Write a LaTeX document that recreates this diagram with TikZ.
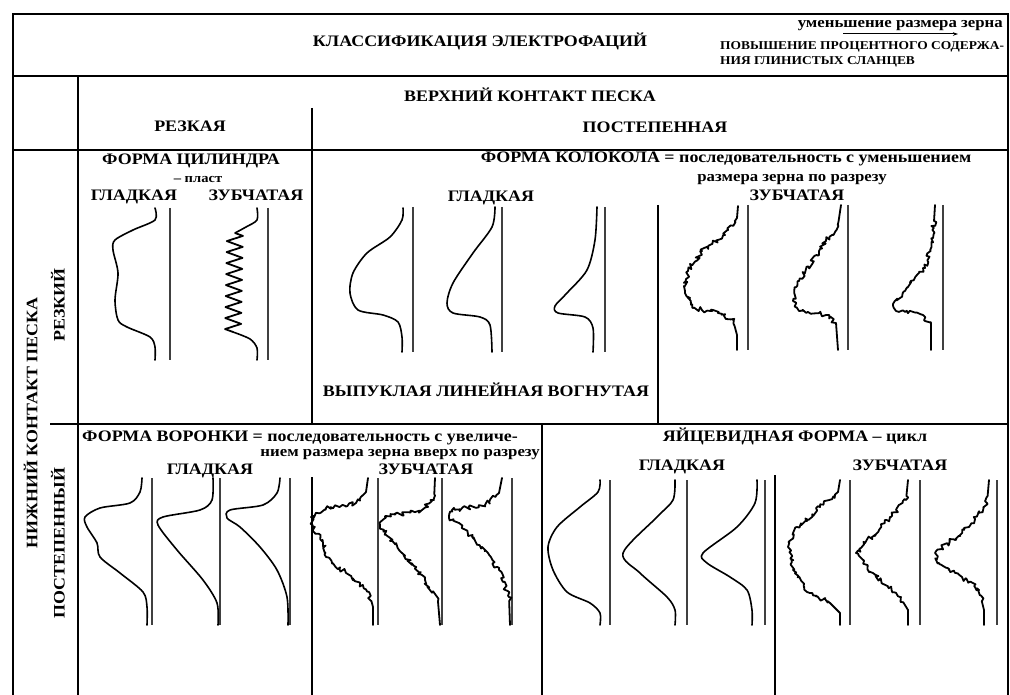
\documentclass[tikz,border=0pt]{standalone}
\usepackage{fontspec}
\setmainfont{Liberation Serif}[FakeStretch=1.12]
\usetikzlibrary{arrows.meta, decorations.pathmorphing}
\tikzset{
    frame/.style = {line width=2pt},
    rule/.style = {line width=1.4pt},
    thin/.style = {line width=1.1pt},
    refl/.style = {line width=1.1pt, black!75},
    curve/.style = {smooth, line width=1.6pt, line join=round, line cap=round},
    serr/.style = {line width=1.8pt, line join=round, line cap=round, decorate,
                   decoration={random steps, segment length=2.2pt, amplitude=2.4pt, pre length=16pt, post length=24pt}},
    teeth/.style = {line width=1.8pt, line join=round, decorate, decoration={zigzag, amplitude=8pt, segment length=11pt}},
    hdr/.style = {inner sep=0pt, text height=11pt, text depth=2pt, font=\bfseries\fontsize{16}{18}\selectfont},
    lc/.style = {inner sep=0pt, text height=10pt, text depth=2pt, font=\bfseries\fontsize{15}{17}\selectfont},
    tiny/.style = {inner sep=0pt, text height=8pt, text depth=2pt, font=\bfseries\fontsize{12}{14}\selectfont},
    % log shapes, origin at the top of the reference line
    pics/convex/.style = {code={\draw[refl] (0,0) -- (0,145);
        \draw[#1] plot coordinates {(-10,1) (-11,13) (-23,30) (-46,46) (-60,66) (-63,86) (-55,103) (-30,108) (-15,115) (-11,130) (-11,145)};}},
    pics/linear/.style = {code={\draw[refl] (0,0) -- (0,145);
        \draw[#1] plot coordinates {(-7,0) (-10,20) (-29,46) (-49,76) (-55,96) (-49,106) (-22,110) (-12,118) (-10,145)};}},
    pics/concave/.style = {code={\draw[refl] (0,0) -- (0,145);
        \draw[#1] plot coordinates {(-8,0) (-10,33) (-18,63) (-38,86) (-50,99) (-47,106) (-20,110) (-12,121) (-12,145)};}},
    pics/funnelA/.style = {code={\draw[refl] (0,0) -- (0,147);
        \draw[#1] plot coordinates {(-10,0) (-12,14) (-22,25) (-52,30) (-67,39) (-65,49) (-55,65) (-52,79) (-32,95) (-9,114) (-5,129) (-5,147)};}},
    pics/funnelB/.style = {code={\draw[refl] (0,0) -- (0,147);
        \draw[#1] plot coordinates {(-7,0) (-8,22) (-20,32) (-57,39) (-62,47) (-43,72) (-17,102) (-3,125) (-2,147)};}},
    pics/funnelC/.style = {code={\draw[refl] (0,0) -- (0,147);
        \draw[#1] plot coordinates {(-10,0) (-13,15) (-27,27) (-60,32) (-63,40) (-50,49) (-30,69) (-13,92) (-3,119) (-2,147)};}},
    pics/eggA/.style = {code={\draw[refl] (0,0) -- (0,145);
        \draw[#1] plot coordinates {(-10,0) (-12,12) (-30,27) (-53,47) (-62,67) (-57,90) (-43,112) (-20,123) (-10,133) (-10,145)};}},
    pics/eggB/.style = {code={\draw[refl] (0,0) -- (0,145);
        \draw[#1] plot coordinates {(-12,0) (-14,20) (-30,37) (-64,73) (-47,93) (-20,117) (-12,130) (-12,145)};}},
    pics/eggC/.style = {code={\draw[refl] (0,0) -- (0,145);
        \draw[#1] plot coordinates {(-8,0) (-10,23) (-28,47) (-62,73) (-58,83) (-35,97) (-18,110) (-13,130) (-13,145)};}}
}

\begin{document}
\begin{tikzpicture}[x=1pt, y=-1pt]
\useasboundingbox (0,0) rectangle (1010,695);
\pgfmathsetseed{3}

% Frame and table rules
\draw[frame] (13,695) -- (13,14) -- (1008,14) -- (1008,695);
\draw[frame] (13,76) -- (1008,76);
\draw[rule] (13,150) -- (1008,150);
\draw[rule] (50,424) -- (1008,424);
\draw[rule] (78,76) -- (78,695);
\draw[thin] (312,108) -- (312,424);
\draw[thin] (658,205) -- (658,424);
\draw[rule] (542,424) -- (542,695);
\draw[thin] (312,477) -- (312,695);
\draw[thin] (775,475) -- (775,695);

% Title row
\node[hdr] (title) at (480,42) {КЛАССИФИКАЦИЯ ЭЛЕКТРОФАЦИЙ};
\node[lc, anchor=east] (grain) at (1003,24) {уменьшение размера зерна};
\coordinate (arrS) at (843,34);
\coordinate (arrE) at (958,34);
\draw[line width=1pt, -{Stealth[length=5pt, width=3.5pt]}] (arrS) -- (arrE);
\node[tiny, anchor=west] (clayA) at (720,47) {ПОВЫШЕНИЕ ПРОЦЕНТНОГО СОДЕРЖА-};
\node[tiny, anchor=west] (clayB) at (720,62) {НИЯ ГЛИНИСТЫХ СЛАНЦЕВ};

% Upper contact
\node[hdr] (upper) at (530,97) {ВЕРХНИЙ КОНТАКТ ПЕСКА};
\node[hdr] (sharpU) at (190,127) {РЕЗКАЯ};
\node[hdr] (gradU) at (655,128) {ПОСТЕПЕННАЯ};

% Lower contact
\node[hdr, rotate=90] (lower) at (33,423) {НИЖНИЙ КОНТАКТ ПЕСКА};
\node[hdr, rotate=90] (sharpL) at (60,305) {РЕЗКИЙ};
\node[hdr, rotate=90] (gradL) at (60,543) {ПОСТЕПЕННЫЙ};

% Cylinder
\node[hdr] (cyl) at (191,160) {ФОРМА ЦИЛИНДРА};
\node[tiny, font=\bfseries\fontsize{13}{15}\selectfont] (cylnote) at (198,180) {– пласт};
\node[hdr] (cylS) at (134,196) {ГЛАДКАЯ};
\node[hdr] (cylZ) at (256,196) {ЗУБЧАТАЯ};
\draw[refl] (170,208) -- (170,360);
\draw[curve] plot coordinates {(155,208) (155,220) (133,230) (115,240) (113,250) (118,273) (115,300) (118,320) (127,327) (150,337) (155,347) (155,360)};
\draw[refl] (268,208) -- (268,360);
\draw[curve] plot coordinates {(257,208) (257,220) (246,227) (235,233)};
\draw[teeth] (235,233) -- (233,332);
\draw[curve] plot coordinates {(233,332) (250,339) (257,348) (257,360)};

% Bell
\node[hdr] (bell) at (726,158) {ФОРМА КОЛОКОЛА = последовательность с уменьшением};
\node[lc] (bellB) at (792,178) {размера зерна по разрезу};
\node[hdr] (bellS) at (491,197) {ГЛАДКАЯ};
\node[hdr] (bellZ) at (797,196) {ЗУБЧАТАЯ};
\pic at (413,207) {convex=curve};
\pic at (502,207) {linear=curve};
\pic at (605,207) {concave=curve};
\pic at (748,205) {convex=serr};
\pic at (848,205) {linear=serr};
\pic at (943,205) {concave=serr};
\node[hdr] (bellN) at (486,392) {ВЫПУКЛАЯ ЛИНЕЙНАЯ ВОГНУТАЯ};

% Funnel
\node[hdr, anchor=west] (fun) at (82,437) {ФОРМА ВОРОНКИ = последовательность с увеличе-};
\node[lc, anchor=east] (funB) at (540,452) {нием размера зерна вверх по разрезу};
\node[hdr] (funS) at (210,470) {ГЛАДКАЯ};
\node[hdr] (funZ) at (426,470) {ЗУБЧАТАЯ};
\pic at (152,478) {funnelA=curve};
\pic at (220,478) {funnelB=curve};
\pic at (290,478) {funnelC=curve};
\pic at (378,478) {funnelA=serr};
\pic at (442,478) {funnelB=serr};
\pic at (512,478) {funnelC=serr};

% Egg
\node[hdr] (egg) at (795,437) {ЯЙЦЕВИДНАЯ ФОРМА – цикл};
\node[hdr] (eggS) at (682,466) {ГЛАДКАЯ};
\node[hdr] (eggZ) at (900,466) {ЗУБЧАТАЯ};
\pic at (610,480) {eggA=curve};
\pic at (687,480) {eggB=curve};
\pic at (765,480) {eggC=curve};
\pic at (850,480) {eggA=serr};
\pic at (920,480) {eggB=serr};
\pic at (997,480) {eggC=serr};
\end{tikzpicture}
\end{document}
